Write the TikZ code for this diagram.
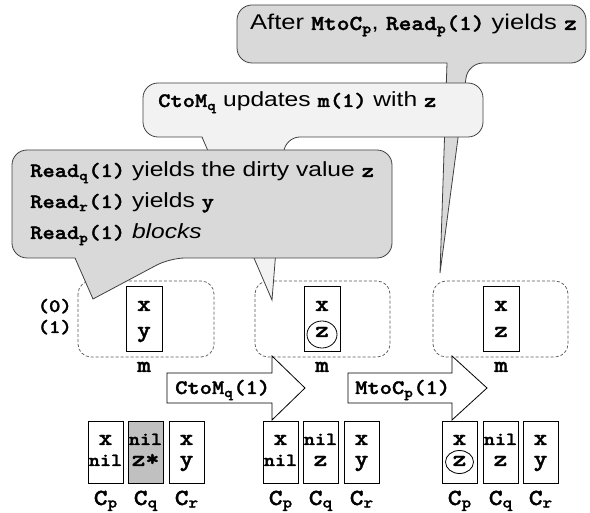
\documentclass[tikz,border=0pt]{standalone}
\usepackage{fontspec}
\setmainfont[FakeStretch=1.2]{Liberation Sans}
\setmonofont[FakeStretch=1.14,FakeBold=1.6]{lmmonolt10-bold.otf}
\newcommand{\mtt}[1]{{\ttfamily #1}}
\newcommand{\msub}[1]{\textsubscript{\ttfamily #1}}
\newcommand{\lsub}[1]{\raisebox{-2.5pt}{\fontsize{16}{16}\selectfont\ttfamily #1}}
\definecolor{calloutgray}{HTML}{D9D9D9}
\definecolor{calloutlight}{HTML}{F2F2F2}
\definecolor{shadegray}{HTML}{C0C0C0}
\begin{document}
\begin{tikzpicture}[x=1pt,y=-1pt,
  cellbox/.style={draw=black,line width=1.1pt,fill=white},
  shadebox/.style={draw=black,line width=1.1pt,fill=shadegray},
  membox/.style={draw=black!65,dash pattern=on 3pt off 2pt,line width=0.7pt,rounded corners=13pt},
  callout/.style={draw=black!75,line width=0.8pt,fill=calloutgray},
  calloutpale/.style={draw=black!75,line width=0.8pt,fill=calloutlight},
  blockarrow/.style={draw=black,line width=0.8pt,fill=white,line join=miter},
  valtext/.style={font=\fontsize{23}{23}\selectfont\ttfamily,inner sep=0pt,anchor=base},
  niltext/.style={font=\fontsize{18.5}{18.5}\selectfont\ttfamily,inner sep=0pt,anchor=base},
  lbltext/.style={font=\fontsize{23}{23}\selectfont\ttfamily,inner sep=0pt,anchor=base},
  rowtext/.style={font=\fontsize{19}{19}\selectfont\ttfamily,inner sep=0pt,anchor=base east},
  saytext/.style={font=\fontsize{20.5}{24}\selectfont,inner sep=0pt,anchor=base west}
]
\useasboundingbox (0,0) rectangle (590,513);

% ---------- memory dashed boxes ----------
\draw[membox] (78,281) rectangle (214,357);
\draw[membox] (255,281) rectangle (390,357);
\draw[membox] (433,281) rectangle (568,357);

% memory cells
\node[cellbox,minimum width=36pt,minimum height=65pt,inner sep=0pt,anchor=north west] (mA) at (126,286) {};
\node[cellbox,minimum width=36pt,minimum height=65pt,inner sep=0pt,anchor=north west] (mB) at (304,286) {};
\node[cellbox,minimum width=36pt,minimum height=65pt,inner sep=0pt,anchor=north west] (mC) at (483,286) {};

\node[valtext] (mA0) at (144,311) {x};
\node[valtext] (mA1) at (144,337) {y};
\node[valtext] (mB0) at (322,311) {x};
\node[valtext] (mB1) at (322,337) {z};
\node[valtext] (mC0) at (501,311) {x};
\node[valtext] (mC1) at (501,337) {z};
\draw[line width=0.8pt] (322,334.5) ellipse [x radius=15, y radius=13.5];

\node[rowtext] (row0) at (72,312) {(0)};
\node[rowtext] (row1) at (72,333) {(1)};

\node[lbltext] (mlA) at (144,372) {m};
\node[lbltext] (mlB) at (322,372) {m};
\node[lbltext] (mlC) at (501,372) {m};

% ---------- block arrows ----------
\draw[blockarrow] (167,373) -- (272,373) -- (272,356) -- (305,388) -- (272,420) -- (272,403) -- (167,403) -- cycle;
\node[saytext,font=\fontsize{20.5}{24}\selectfont\ttfamily] (arrA) at (175,394) {CtoM\msub{q}(1)};
\draw[blockarrow] (348,373) -- (452,373) -- (452,356) -- (487,388) -- (452,420) -- (452,403) -- (348,403) -- cycle;
\node[saytext,font=\fontsize{20.5}{24}\selectfont\ttfamily] (arrB) at (355,394) {MtoC\msub{p}(1)};

% ---------- caches ----------
% group 1
\node[cellbox,minimum width=35pt,minimum height=62pt,inner sep=0pt,anchor=north west] (c1p) at (88,421) {};
\node[shadebox,minimum width=35pt,minimum height=62pt,inner sep=0pt,anchor=north west] (c1q) at (128,421) {};
\node[cellbox,minimum width=35pt,minimum height=62pt,inner sep=0pt,anchor=north west] (c1r) at (169,421) {};
\node[valtext] (c1p0) at (105.5,445) {x};
\node[niltext] (c1p1) at (105.5,466) {nil};
\node[niltext] (c1q0) at (145.5,445) {nil};
\node[valtext] (c1q1) at (145.5,466) {z*};
\node[valtext] (c1r0) at (186.5,445) {x};
\node[valtext] (c1r1) at (186.5,466) {y};
\node[lbltext] (l1p) at (105.5,505) {C\lsub{p}};
\node[lbltext] (l1q) at (145.5,505) {C\lsub{q}};
\node[lbltext] (l1r) at (186.5,505) {C\lsub{r}};

% group 2
\node[cellbox,minimum width=35pt,minimum height=62pt,inner sep=0pt,anchor=north west] (c2p) at (263,421) {};
\node[cellbox,minimum width=35pt,minimum height=62pt,inner sep=0pt,anchor=north west] (c2q) at (303,421) {};
\node[cellbox,minimum width=35pt,minimum height=62pt,inner sep=0pt,anchor=north west] (c2r) at (344,421) {};
\node[valtext] (c2p0) at (280.5,445) {x};
\node[niltext] (c2p1) at (280.5,466) {nil};
\node[niltext] (c2q0) at (320.5,445) {nil};
\node[valtext] (c2q1) at (320.5,466) {z};
\node[valtext] (c2r0) at (361.5,445) {x};
\node[valtext] (c2r1) at (361.5,466) {y};
\node[lbltext] (l2p) at (280.5,505) {C\lsub{p}};
\node[lbltext] (l2q) at (320.5,505) {C\lsub{q}};
\node[lbltext] (l2r) at (361.5,505) {C\lsub{r}};

% group 3
\node[cellbox,minimum width=35pt,minimum height=62pt,inner sep=0pt,anchor=north west] (c3p) at (442,421) {};
\node[cellbox,minimum width=35pt,minimum height=62pt,inner sep=0pt,anchor=north west] (c3q) at (483,421) {};
\node[cellbox,minimum width=35pt,minimum height=62pt,inner sep=0pt,anchor=north west] (c3r) at (523,421) {};
\node[valtext] (c3p0) at (459.5,445) {x};
\node[valtext] (c3p1) at (459.5,466) {z};
\draw[line width=0.8pt] (459.5,462) ellipse [x radius=14, y radius=11.5];
\node[niltext] (c3q0) at (500.5,445) {nil};
\node[valtext] (c3q1) at (500.5,466) {z};
\node[valtext] (c3r0) at (540.5,445) {x};
\node[valtext] (c3r1) at (540.5,466) {y};
\node[lbltext] (l3p) at (459.5,505) {C\lsub{p}};
\node[lbltext] (l3q) at (500.5,505) {C\lsub{q}};
\node[lbltext] (l3r) at (540.5,505) {C\lsub{r}};

% ---------- callouts ----------
% callout 3 (top)
\draw[callout] (410,5) [rounded corners=15pt] -- (586,5) -- (586,63) -- (468,63) [sharp corners] -- (440,273) -- (447,63) [rounded corners=15pt] -- (237,63) -- (237,5) -- cycle;
\node[saytext,font=\fontsize{21.3}{24}\selectfont] (say3) at (250,30) {After \mtt{MtoC}\msub{p}, \mtt{Read}\msub{p}\mtt{(1)} yields \mtt{z}};

% callout 2
\draw[calloutpale] (310,83) [rounded corners=15pt] -- (483,83) -- (483,137) -- (285,137) [sharp corners] -- (272,300) -- (202,137) [rounded corners=15pt] -- (143,137) -- (143,83) -- cycle;
\node[saytext] (say2) at (158,107) {\mtt{CtoM}\msub{q} updates \mtt{m(1)} with \mtt{z}};

% callout 1
\draw[callout] (200,150) [rounded corners=15pt] -- (392,150) -- (392,258) -- (170,258) [sharp corners] -- (93,299) -- (75,258) [rounded corners=15pt] -- (12,258) -- (12,150) -- cycle;
\node[saytext] (say1a) at (30,177) {\mtt{Read}\msub{q}\mtt{(1)} yields the dirty value \mtt{z}};
\node[saytext] (say1b) at (30,208) {\mtt{Read}\msub{r}\mtt{(1)} yields \mtt{y}};
\node[saytext] (say1c) at (30,239) {\mtt{Read}\msub{p}\mtt{(1)} \textit{blocks}};
\end{tikzpicture}
\end{document}
